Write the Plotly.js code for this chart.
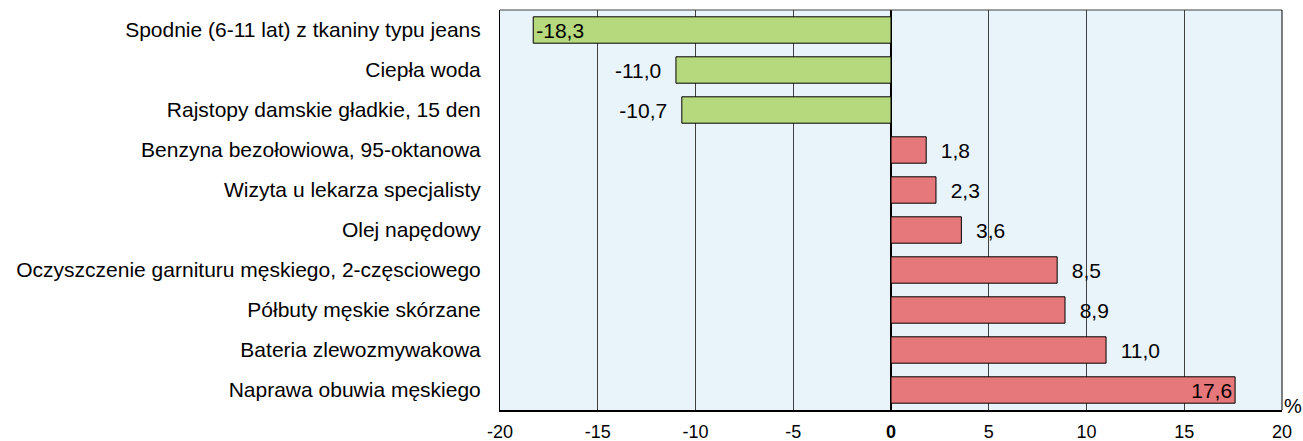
<!DOCTYPE html>
<html><head><meta charset="utf-8">
<script src="https://cdn.plot.ly/plotly-3.0.1.min.js"></script>
<style>body{margin:0;background:#fff}#c{width:1303px;height:441px}</style>
</head><body><div id="c"></div>
<script>
const categories = [
  "Spodnie (6-11 lat) z tkaniny typu jeans",
  "Ciepła woda",
  "Rajstopy damskie gładkie, 15 den",
  "Benzyna bezołowiowa, 95-oktanowa",
  "Wizyta u lekarza specjalisty",
  "Olej napędowy",
  "Oczyszczenie garnituru męskiego, 2-częsciowego",
  "Półbuty męskie skórzane",
  "Bateria zlewozmywakowa",
  "Naprawa obuwia męskiego"
];
const values = [-18.3, -11.0, -10.7, 1.8, 2.3, 3.6, 8.5, 8.9, 11.0, 17.6];
const tickValues = [-20, -15, -10, -5, 0, 5, 10, 15, 20];
const tickLabels = ["-20", "-15", "-10", "-5", "<b>0</b>", "5", "10", "15", "20"];

const colors = values.map(v => v < 0 ? "#b6d97e" : "#e6777a");
const positions = values.map(v => Math.abs(v) > 15 ? "inside" : "outside");
const labels = values.map((v, i) => {
  const s = v.toFixed(1).replace(".", ",");
  if (positions[i] === "inside") return s;
  return v < 0 ? s + "\u00a0\u00a0" : "\u00a0\u00a0" + s;
});

const trace = {
  type: "bar", orientation: "h",
  x: values, y: categories,
  width: 0.66,
  marker: {color: colors, line: {color: "#000", width: 1}},
  text: labels, textposition: positions,
  insidetextanchor: "end",
  constraintext: "none",
  textfont: {family: "Liberation Sans, Arial, sans-serif", size: 21, color: "#000"},
  insidetextfont: {color: "#000"},
  outsidetextfont: {color: "#000"},
  cliponaxis: false,
  hoverinfo: "none"
};

const layout = {
  width: 1303, height: 441,
  margin: {l: 500, r: 21, t: 10, b: 31},
  paper_bgcolor: "#fff",
  plot_bgcolor: "#e8f3fa",
  font: {family: "Liberation Sans, Arial, sans-serif", size: 21, color: "#000"},
  showlegend: false,
  xaxis: {
    range: [-20, 20], tickvals: tickValues, ticktext: tickLabels,
    showgrid: true, gridcolor: "#404040", gridwidth: 1,
    zeroline: true, zerolinecolor: "#000", zerolinewidth: 2,
    showline: true, linecolor: "#000", linewidth: 2, mirror: false,
    ticks: "", tickfont: {size: 18}, ticklabelstandoff: 4, fixedrange: true
  },
  yaxis: {
    autorange: "reversed", showgrid: false, zeroline: false,
    showline: true, linecolor: "#000", linewidth: 1,
    ticks: "", ticklabelstandoff: 14, tickfont: {size: 21}, fixedrange: true
  },
  shapes: [
    {type: "line", xref: "paper", yref: "paper", x0: 0, x1: 1, y0: 1, y1: 1, line: {color: "#404040", width: 1}},
    {type: "line", xref: "paper", yref: "paper", x0: 1, x1: 1, y0: 0, y1: 1, line: {color: "#000", width: 1}}
  ],
  annotations: [
    {text: "%", xref: "paper", yref: "paper", x: 1, y: 0, xanchor: "left", yanchor: "middle",
     xshift: 0, yshift: 4, showarrow: false, font: {size: 20, color: "#000"}}
  ]
};

Plotly.newPlot("c", [trace], layout, {displayModeBar: false, staticPlot: true});
</script>
</body></html>
